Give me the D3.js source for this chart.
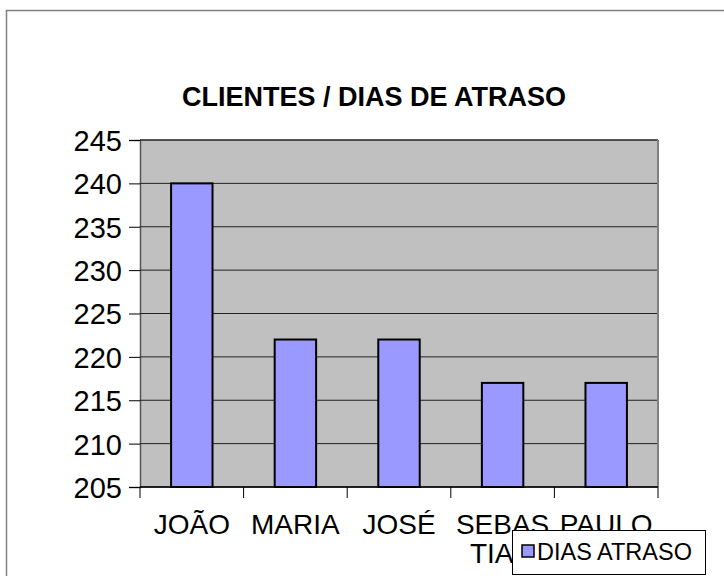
<!DOCTYPE html>
<meta charset="utf-8">
<script src="https://d3js.org/d3.v7.min.js"></script>
<style>
  body { margin: 0; background: #fff; font-family: 'Liberation Sans', Arial, sans-serif; }
  svg text { font-family: 'Liberation Sans', Arial, sans-serif; }
</style>
<div id="chart"></div>
<script>

// data
var categories = ["JOÃO", "MARIA", "JOSÉ", "SEBASTIAO", "PAULO"];
var tickLines = [["JOÃO"], ["MARIA"], ["JOSÉ"], ["SEBAS", "TIAO"], ["PAULO"]];
var diasAtraso = [240, 222, 222, 217, 217];
var yTicks = [205, 210, 215, 220, 225, 230, 235, 240, 245];
var seriesName = "DIAS ATRASO";
var title = "CLIENTES / DIAS DE ATRASO";

var W = 724, H = 576;
var plot = {left: 140, top: 140, right: 658, bottom: 487};

var svg = d3.select("#chart").append("svg")
    .attr("width", W)
    .attr("height", H);

// outer frame (runs off the right/bottom edge)
svg.append("rect")
    .attr("x", 6.5).attr("y", 10.5)
    .attr("width", 900).attr("height", 900)
    .attr("fill", "none")
    .attr("stroke", "#808080")
    .attr("stroke-width", 1.5);

svg.append("text")
    .attr("x", 374)
    .attr("y", 106)
    .attr("text-anchor", "middle")
    .style("font-size", "27px")
    .style("font-weight", "bold")
    .text(title);

var x = d3.scaleBand()
    .domain(categories)
    .range([plot.left, plot.right])
    .padding(0);

var y = d3.scaleLinear()
    .domain([205, 245])
    .range([plot.bottom, plot.top]);

// plot background
svg.append("rect")
    .attr("x", plot.left).attr("y", plot.top)
    .attr("width", plot.right - plot.left)
    .attr("height", plot.bottom - plot.top)
    .attr("fill", "#c0c0c0");

// gridlines + left ticks
var yAxis = svg.append("g")
    .attr("transform", "translate(" + plot.left + ",0)")
    .call(d3.axisLeft(y).tickValues(yTicks).tickSize(11).tickPadding(7).tickFormat(d3.format("d")));
yAxis.select(".domain").attr("stroke", "#555").attr("stroke-width", 1.5);
yAxis.selectAll(".tick line").attr("stroke", "#000");
yAxis.selectAll(".tick text")
    .attr("fill", "#000")
    .style("font-size", "29px")
    .attr("dy", "0.36em");

svg.append("g")
  .selectAll("line")
  .data(yTicks)
  .enter().append("line")
    .attr("x1", plot.left).attr("x2", plot.right)
    .attr("y1", function(d) { return y(d); })
    .attr("y2", function(d) { return y(d); })
    .attr("stroke", "#222")
    .attr("stroke-width", function(d) { return d === 245 ? 1.5 : 1; });

// right border of plot
svg.append("line")
    .attr("x1", plot.right).attr("x2", plot.right)
    .attr("y1", plot.top).attr("y2", plot.bottom)
    .attr("stroke", "#808080")
    .attr("stroke-width", 2);

// bars
var barW = x.bandwidth() * 0.4;
svg.append("g")
  .selectAll("rect")
  .data(categories)
  .enter().append("rect")
    .attr("x", function(d) { return x(d) + (x.bandwidth() - barW) / 2; })
    .attr("y", function(d, i) { return y(diasAtraso[i]); })
    .attr("width", barW)
    .attr("height", function(d, i) { return y(205) - y(diasAtraso[i]); })
    .attr("fill", "#9999ff")
    .attr("stroke", "#000")
    .attr("stroke-width", 2);

// category axis
svg.append("line")
    .attr("x1", plot.left).attr("x2", plot.right)
    .attr("y1", plot.bottom).attr("y2", plot.bottom)
    .attr("stroke", "#000")
    .attr("stroke-width", 1.5);

var edges = categories.map(function(d) { return x(d); }).concat([plot.right]);
svg.append("g")
  .selectAll("line")
  .data(edges)
  .enter().append("line")
    .attr("x1", function(d) { return d; }).attr("x2", function(d) { return d; })
    .attr("y1", plot.bottom).attr("y2", plot.bottom + 11)
    .attr("stroke", "#000");

var labels = svg.append("g")
  .selectAll("text")
  .data(categories)
  .enter().append("text")
    .attr("x", function(d) { return x(d) + x.bandwidth() / 2; })
    .attr("y", 534)
    .attr("text-anchor", "middle")
    .style("font-size", "28px");

labels.selectAll("tspan")
  .data(function(d, i) { return tickLines[i]; })
  .enter().append("tspan")
    .attr("x", function() { return d3.select(this.parentNode).attr("x"); })
    .attr("dy", function(d, i) { return i === 0 ? 0 : 29; })
    .text(function(d) { return d; });

// legend
var legend = svg.append("g").attr("transform", "translate(512,530)");
legend.append("rect")
    .attr("x", 0.5).attr("y", 0.5)
    .attr("width", 193).attr("height", 44)
    .attr("fill", "#fff")
    .attr("stroke", "#000");
legend.append("rect")
    .attr("x", 10).attr("y", 15)
    .attr("width", 12).attr("height", 12)
    .attr("fill", "#9999ff")
    .attr("stroke", "#000")
    .attr("stroke-width", 1.5);
legend.append("text")
    .attr("x", 25)
    .attr("y", 30)
    .style("font-size", "23.5px")
    .text(seriesName);

</script>
